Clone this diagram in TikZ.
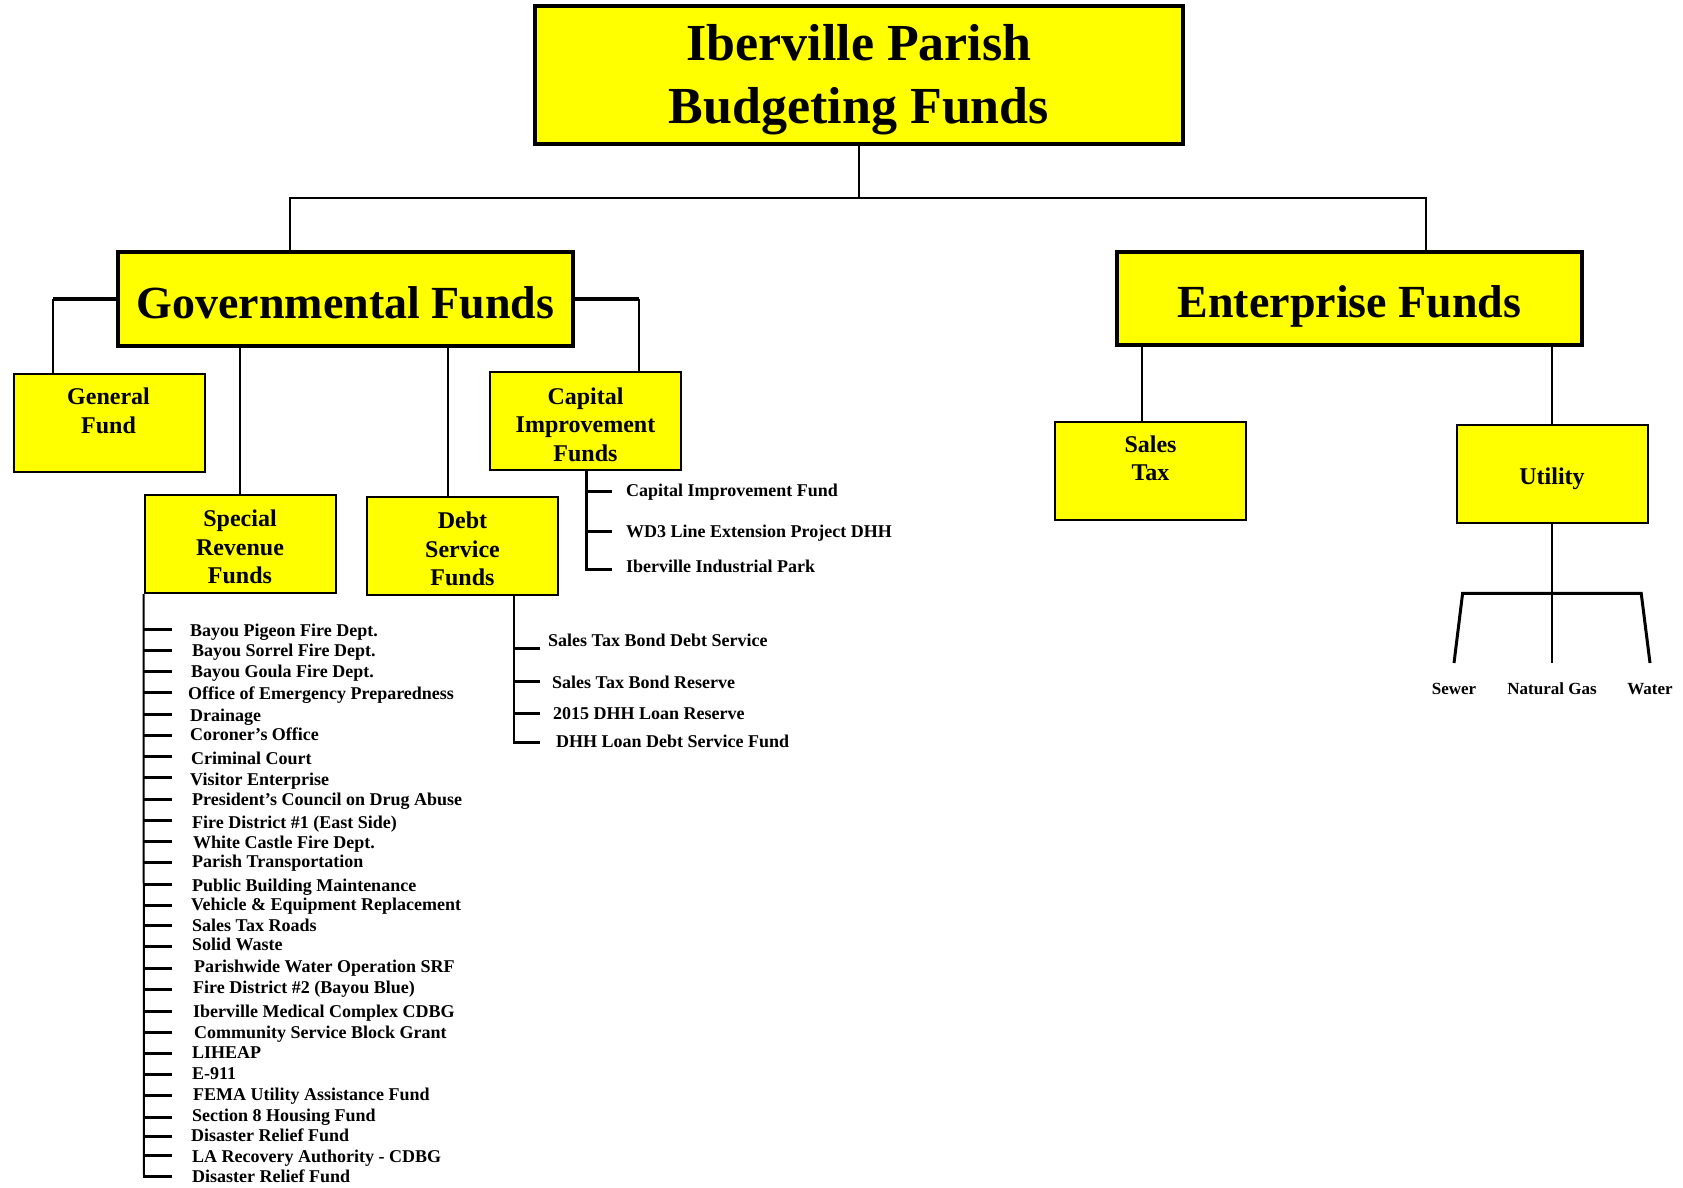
\documentclass[tikz,border=0pt]{standalone}
\usepackage{fontspec}
\setmainfont{Liberation Serif}
\definecolor{yel}{HTML}{FFFF00}
\begin{document}
\begin{tikzpicture}[x=1pt,y=-1pt,
  box/.style={draw=black, fill=yel, rectangle, inner sep=0pt, align=center,
    font=\bfseries\fontsize{24}{28.5}\selectfont, minimum width=191pt, minimum height=98pt, line width=2pt},
  big/.style={box, line width=4.5pt, font=\bfseries\fontsize{46}{55}\selectfont},
  boxtext/.style={inner sep=0pt, align=center, font=\bfseries\fontsize{24}{28.5}\selectfont},
  conn/.style={line width=2pt},
  thickconn/.style={line width=3.5pt},
  tick/.style={line width=3pt},
  listline/.style={line width=2pt},
  item/.style={inner sep=0pt, anchor=base west, font=\bfseries\fontsize{18}{20}\selectfont},
  util/.style={inner xsep=0pt, inner ysep=19pt, text height=12pt, text depth=0pt, anchor=north,
    font=\bfseries\fontsize{17}{19}\selectfont}]
\useasboundingbox[fill=white] (0,0) rectangle (1683,1187);

% main boxes
\node[big, minimum width=648pt, minimum height=138pt] (title) at (859,75) {};
\node[boxtext, font=\bfseries\fontsize{52}{63}\selectfont] (titletext) at (859,80) {Iberville Parish\\Budgeting Funds};
\node[big, minimum width=455pt, minimum height=94pt, text height=38pt, text depth=0pt] (gov) at (345.5,299) {Governmental Funds};
\node[big, minimum width=465pt, minimum height=93pt, text height=38pt, text depth=0pt] (ent) at (1349.5,298.5) {Enterprise Funds};

% sub boxes
\node[box] (gen) at (109,422.5) {};
\node[boxtext] (gentext) at (108.5,411) {General\\Fund};
\node[box] (sr) at (240,544) {};
\node[boxtext] (srtext) at (240,547) {Special\\Revenue\\Funds};
\node[box] (debt) at (462.5,546) {};
\node[boxtext] (debttext) at (462.5,549) {Debt\\Service\\Funds};
\node[box] (cap) at (585.5,421.25) {};
\node[boxtext] (captext) at (585.5,424.5) {Capital\\Improvement\\Funds};
\node[box] (st) at (1150.5,471) {};
\node[boxtext] (sttext) at (1150.5,458.5) {Sales\\Tax};
\node[box, text height=20.5pt, text depth=0pt] (ut) at (1552,474) {Utility};

% top connectors
\coordinate (top) at (859,198);
\coordinate (gx) at (290,0);
\coordinate (ex) at (1426,0);
\draw[conn] (title.south) -- (top);
\draw[conn] (top) -| (gx |- gov.north);
\draw[conn] (top) -| (ex |- ent.north);

% governmental connectors
\coordinate (gl) at (52.6,0);
\coordinate (gr) at (638.6,0);
\coordinate (dx) at (447.6,0);
\draw[thickconn] (gov.west) -- (gl |- gov.west);
\draw[conn] (gl |- gov.west) -- (gl |- gen.north);
\draw[thickconn] (gov.east) -- (gr |- gov.east);
\draw[conn] (gr |- gov.east) -- (gr |- cap.north);
\draw[conn] (gov.south -| sr.north) -- (sr.north);
\draw[conn] (dx |- gov.south) -- (dx |- debt.north);

% enterprise connectors
\coordinate (sx) at (1142,0);
\draw[conn] (sx |- ent.south) -- (sx |- st.north);
\draw[conn] (ent.south -| ut.north) -- (ut.north);

% utility subtree
\node[util] (sew) at (1454,663) {Sewer};
\node[util] (ng) at (1552,663) {Natural Gas};
\node[util] (wat) at (1650,663) {Water};
\coordinate (bl) at (1462.6,593.3);
\coordinate (br) at (1641.2,593.3);
\draw[line width=2.5pt] (ut.south) -- (ng.north);
\draw[line width=3pt] (sew.north) -- (bl) -- (br) -- (wat.north);

% capital improvement list
\coordinate (cv) at (586,0);
\draw[tick] (cv |- cap.south) |- (612,569);
\foreach \ty/\b/\t [count=\i] in {491/496/Capital Improvement Fund,
    531/537.3/WD3 Line Extension Project DHH,
    569/572/Iberville Industrial Park}{
  \node[item] (ci\i) at (626,\b) {\t};
  \draw[tick] (586,\ty) -- (612,\ty);
}

% debt service list
\coordinate (dv) at (514,0);
\draw[listline] (dv |- debt.south) -- (514,742.3);
\foreach \x/\ty/\b/\t [count=\i] in {548/648.3/646.7/Sales Tax Bond Debt Service,
    552/681/688.3/Sales Tax Bond Reserve,
    553/713.3/719.3/2015 DHH Loan Reserve,
    556/742.3/747.7/DHH Loan Debt Service Fund}{
  \node[item] (di\i) at (\x,\b) {\t};
  \draw[tick] (513,\ty) -- (540,\ty);
}

% special revenue list
\draw[listline] (sr.south west) -- (144,1177);
\foreach \x/\b/\ty/\t [count=\i] in {
    190/636/629.3/Bayou Pigeon Fire Dept.,
    192/656.4/650/Bayou Sorrel Fire Dept.,
    191/677.9/671/Bayou Goula Fire Dept.,
    188/699.4/692.3/Office of Emergency Preparedness,
    190/721.9/714/Drainage,
    190/740.1/735/Coroner’s Office,
    191/764.8/756/Criminal Court,
    190/785.2/777.3/Visitor Enterprise,
    192/805.6/799/President’s Council on Drug Abuse,
    192/828.2/820.3/Fire District \#1 (East Side),
    193/848.5/841.3/White Castle Fire Dept.,
    192/867.9/862/Parish Transportation,
    192/891.5/884.3/Public Building Maintenance,
    191/910.8/905/Vehicle \& Equipment Replacement,
    192/931.2/925.7/Sales Tax Roads,
    192/950.5/946.7/Solid Waste,
    194/972/968.3/Parishwide Water Operation SRF,
    193/993.4/989.3/Fire District \#2 (Bayou Blue),
    193/1017/1011/Iberville Medical Complex CDBG,
    194/1038.5/1032.3/Community Service Block Grant,
    192/1058.9/1053.3/LIHEAP,
    192/1079.3/1074.3/E-911,
    193/1100.7/1095.7/FEMA Utility Assistance Fund,
    192/1121.1/1117.3/Section 8 Housing Fund,
    191/1141.6/1136.7/Disaster Relief Fund,
    192/1162/1155.7/LA Recovery Authority - CDBG,
    192/1182.5/1176/Disaster Relief Fund}{
  \node[item] (si\i) at (\x,\b) {\t};
  \draw[tick] (143,\ty) -- (172,\ty);
}
\end{tikzpicture}
\end{document}
